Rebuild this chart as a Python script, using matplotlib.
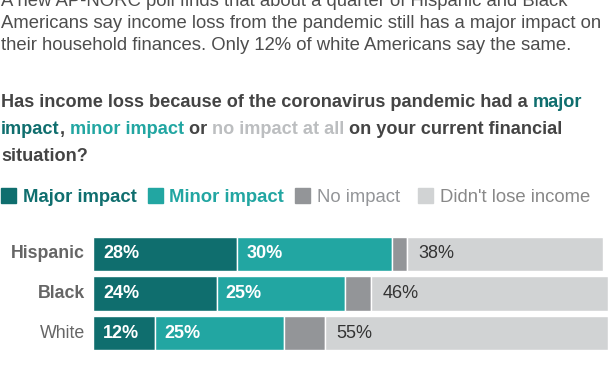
import matplotlib
matplotlib.use("Agg")
import matplotlib.pyplot as plt
import matplotlib.patches as mpatches
from matplotlib import font_manager

# ------------------------------------------------------------
# Data
# ------------------------------------------------------------
groups = ["Hispanic", "Black", "White"]
major = [28, 24, 12]
minor = [30, 25, 25]
no_impact = [3, 5, 8]
didnt_lose = [38, 46, 55]
series_names = ["Major impact", "Minor impact", "No impact", "Didn't lose income"]

intro = ["A new AP-NORC poll finds that about a quarter of Hispanic and Black",
         "Americans say income loss from the pandemic still has a major impact on",
         "their household finances. Only 12% of white Americans say the same."]

C_MAJOR = "#0f6e6e"
C_MINOR = "#22a6a2"
C_NONE = "#939598"
C_DIDNT = "#d1d3d4"
C_TEXT = "#4d4d4d"
C_LABEL = "#666666"

names = {f.name for f in font_manager.fontManager.ttflist}
FONT = ["Liberation Sans Narrow", "DejaVu Sans"] if "Liberation Sans Narrow" in names else ["Liberation Sans", "DejaVu Sans"]
plt.rcParams["font.family"] = FONT

W, H = 612, 374
fig = plt.figure(figsize=(W / 100, H / 100), dpi=100)
renderer = fig.canvas.get_renderer()


def fx(x):
    return x / W


def fy(y):
    return 1 - y / H


def runs(x, y, pieces, size, weight="normal"):
    """draw a line of text made of differently coloured pieces"""
    for txt, col in pieces:
        t = fig.text(fx(x), fy(y), txt, color=col, fontsize=size, fontweight=weight,
                     ha="left", va="baseline")
        bb = t.get_window_extent(renderer=renderer)
        x += bb.width


# intro paragraph (top line cut off by the crop)
for i, line in enumerate(intro):
    fig.text(fx(1), fy(6 + i * 22), line, color=C_TEXT, fontsize=13.3, ha="left", va="baseline")

# question with coloured keywords
QS = 13.1
runs(1, 107, [("Has income loss because of the coronavirus pandemic had a ", "#444444"),
              ("major", C_MAJOR)], QS, "bold")
runs(1, 134, [("impact", C_MAJOR), (", ", "#444444"), ("minor impact", C_MINOR),
              (" or ", "#444444"), ("no impact at all", "#bcbec0"),
              (" on your current financial", "#444444")], QS, "bold")
runs(1, 161, [("situation?", "#444444")], QS, "bold")

# legend row
leg = [(series_names[0], C_MAJOR, "bold", C_MAJOR, 1, 23),
       (series_names[1], C_MINOR, "bold", C_MINOR, 148, 169),
       (series_names[2], C_NONE, "normal", C_NONE, 295, 317),
       (series_names[3], C_DIDNT, "normal", "#888888", 418, 440)]
for label, col, wt, tcol, x0, xt in leg:
    fig.patches.append(mpatches.Rectangle((fx(x0), fy(203)), 15 / W, 15 / H,
                                          transform=fig.transFigure, color=col))
    fig.text(fx(xt), fy(202), label, color=tcol, fontsize=13.3, fontweight=wt,
             ha="left", va="baseline")

# ------------------------------------------------------------
# Stacked bars
# ------------------------------------------------------------
ax = fig.add_axes([fx(93), fy(350), 515 / W, 113 / H])
ypos = list(range(len(groups)))
left = [0] * len(groups)
for vals, col in [(major, C_MAJOR), (minor, C_MINOR), (no_impact, C_NONE), (didnt_lose, C_DIDNT)]:
    ax.barh(ypos, vals, left=left, height=0.87, color=col, edgecolor="white", linewidth=1)
    left = [l + v for l, v in zip(left, vals)]

for i in ypos:
    ax.text(2.0, i, f"{major[i]}%", color="white", fontsize=13,
            fontweight="bold", va="center", ha="left")
    ax.text(major[i] + 1.8, i, f"{minor[i]}%", color="white", fontsize=13,
            fontweight="bold", va="center", ha="left")
    start = major[i] + minor[i] + no_impact[i]
    ax.text(start + 2.2, i, f"{didnt_lose[i]}%", color="#333333", fontsize=13,
            va="center", ha="left")

ax.set_xlim(0, 100)
ax.set_ylim(len(groups) - 1 + 0.43, -0.43)
ax.axis("off")

for i, g in enumerate(groups):
    ax.text(-1.6, i, g, color=C_LABEL, fontsize=12.8,
            fontweight="bold" if g != "White" else "normal",
            ha="right", va="center")

fig.savefig("out.png", dpi=100)
